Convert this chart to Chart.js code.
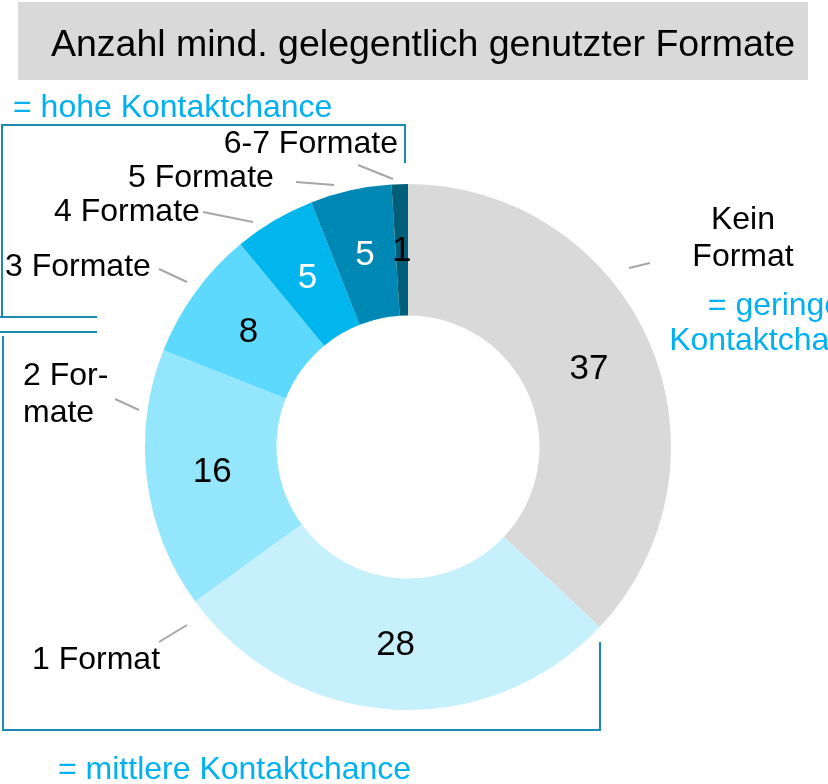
<!DOCTYPE html>
<html>
<head>
<meta charset="utf-8">
<script src="https://cdn.jsdelivr.net/npm/chart.js@4"></script>
<style>
body { margin: 0; background: #ffffff; }
canvas { display: block; }
</style>
</head>
<body>
<canvas id="myChart" width="828" height="784"></canvas>
<script>
// data
var categories = ["Kein Format", "1 Format", "2 Formate", "3 Formate", "4 Formate", "5 Formate", "6-7 Formate"];
var values = [37, 28, 16, 8, 5, 5, 1];
var sliceColors = ["#d9d9d9", "#c7f0fd", "#94e6fd", "#5cd9fd", "#00b6ec", "#0088b4", "#005e79"];
var valueColors = ["#000000", "#000000", "#000000", "#000000", "#ffffff", "#ffffff", "#000000"];

var titleText = "Anzahl mind. gelegentlich genutzter Formate";

// outside labels: lines of text, x, baseline y, align
var outerLabels = [
  { lines: ["Kein", "Format"], x: 743, y: 229, align: "center" },
  { lines: ["1 Format"], x: 32, y: 669, align: "left" },
  { lines: ["2 For-", "mate"], x: 23, y: 385, align: "left" },
  { lines: ["3 Formate"], x: 5, y: 276, align: "left" },
  { lines: ["4 Formate"], x: 54, y: 221, align: "left" },
  { lines: ["5 Formate"], x: 128, y: 187, align: "left" },
  { lines: ["6-7 Formate"], x: 398, y: 153, align: "right" }
];
// leader lines [x1, y1, x2, y2]
var leaders = [
  [629, 268, 650, 263],
  [159, 642, 187, 625],
  [115, 399, 139, 410],
  [159, 269, 187, 282],
  [203, 212, 253, 222],
  [296, 182, 334, 185],
  [358, 165, 393, 179]
];

var groupNotes = [
  { lines: ["= hohe Kontaktchance"], x: 13, y: 117, align: "left" },
  { lines: ["= geringe", "Kontaktchance"], x: 775, y: 315, align: "center" },
  { lines: ["= mittlere Kontaktchance"], x: 58, y: 779, align: "left" }
];
// brackets as polylines
var brackets = [
  [[0, 317], [2, 317], [2, 125], [405, 125], [405, 163]],
  [[97, 317], [0, 317]],
  [[97, 332], [0, 332]],
  [[3, 336], [3, 730], [600, 730], [600, 642]]
];

function drawLines(ctx, item, lineHeight) {
  ctx.textAlign = item.align;
  for (var i = 0; i < item.lines.length; i++) {
    ctx.fillText(item.lines[i], item.x, item.y + i * lineHeight);
  }
}

var annotate = {
  id: "annotate",
  beforeDraw: function (chart) {
    var ctx = chart.ctx;
    ctx.save();
    ctx.fillStyle = "#d9d9d9";
    ctx.fillRect(18, 2, 790, 78);
    ctx.fillStyle = "#000000";
    ctx.font = "37.5px 'Liberation Sans', Arial, sans-serif";
    ctx.textAlign = "center";
    ctx.textBaseline = "alphabetic";
    ctx.fillText(titleText, 423, 56);
    ctx.restore();
  },
  afterDraw: function (chart) {
    var ctx = chart.ctx;
    ctx.save();
    // value labels in the middle of each slice
    var arcs = chart.getDatasetMeta(0).data;
    ctx.font = "35px 'Liberation Sans', Arial, sans-serif";
    ctx.textAlign = "center";
    ctx.textBaseline = "middle";
    for (var i = 0; i < arcs.length; i++) {
      var p = arcs[i].getCenterPoint();
      ctx.fillStyle = valueColors[i];
      ctx.fillText(String(values[i]), p.x, p.y + 1);
    }
    // leader lines
    ctx.strokeStyle = "#a6a6a6";
    ctx.lineWidth = 2;
    for (var j = 0; j < leaders.length; j++) {
      ctx.beginPath();
      ctx.moveTo(leaders[j][0], leaders[j][1]);
      ctx.lineTo(leaders[j][2], leaders[j][3]);
      ctx.stroke();
    }
    // category labels
    ctx.textBaseline = "alphabetic";
    ctx.fillStyle = "#000000";
    ctx.font = "32px 'Liberation Sans', Arial, sans-serif";
    for (var k = 0; k < outerLabels.length; k++) {
      drawLines(ctx, outerLabels[k], 37);
    }
    // brackets
    ctx.strokeStyle = "#1a8ab4";
    ctx.lineWidth = 2;
    for (var b = 0; b < brackets.length; b++) {
      ctx.beginPath();
      ctx.moveTo(brackets[b][0][0], brackets[b][0][1]);
      for (var n = 1; n < brackets[b].length; n++) {
        ctx.lineTo(brackets[b][n][0], brackets[b][n][1]);
      }
      ctx.stroke();
    }
    // group notes
    ctx.fillStyle = "#00b0f0";
    ctx.font = "32px 'Liberation Sans', Arial, sans-serif";
    for (var g = 0; g < groupNotes.length; g++) {
      drawLines(ctx, groupNotes[g], 35);
    }
    ctx.restore();
  }
};

var ctx = document.getElementById("myChart").getContext("2d");
var myChart = new Chart(ctx, {
  type: "doughnut",
  data: {
    labels: categories,
    datasets: [{
      data: values,
      backgroundColor: sliceColors,
      borderWidth: 0
    }]
  },
  options: {
    responsive: false,
    animation: false,
    cutout: "50%",
    layout: { padding: { left: 145, right: 157, top: 184, bottom: 74 } },
    plugins: {
      legend: { display: false },
      tooltip: { enabled: false }
    }
  },
  plugins: [annotate]
});
</script>
</body>
</html>
